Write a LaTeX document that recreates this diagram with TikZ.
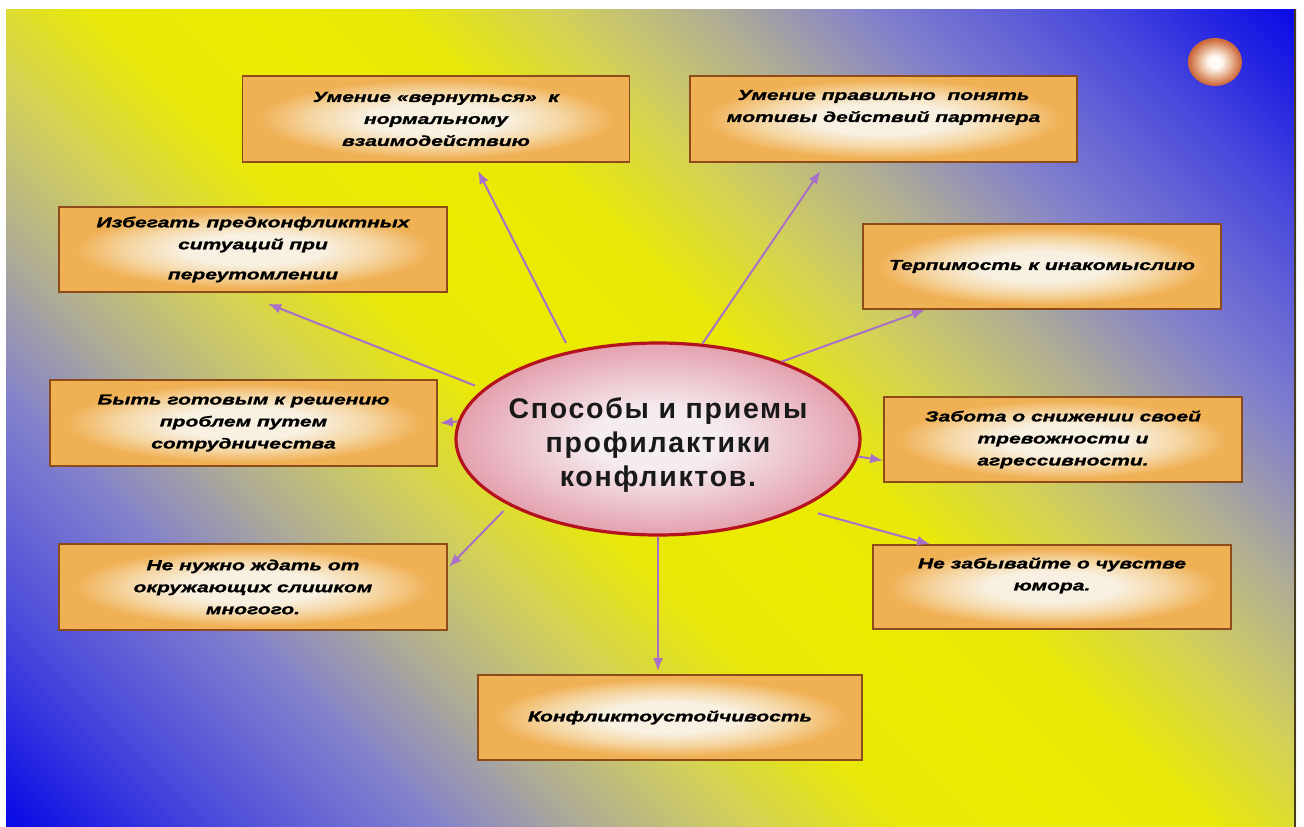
\documentclass[tikz,border=0pt]{standalone}
\usepackage{fontspec}
\setmainfont{Liberation Sans}
\newfontfamily\boxfont[FakeStretch=1.45, FakeBold=1.3]{Liberation Sans}
\newfontfamily\titlefont[LetterSpace=6]{Liberation Sans}
\usepackage{tikz}
\usetikzlibrary{arrows.meta,shapes.geometric,calc}
\tikzset{>={Latex[length=13pt,width=10pt]}}

\definecolor{bgblue}{RGB}{10,10,230}
\definecolor{bgbluetwo}{RGB}{75,75,220}
\definecolor{bgmauve}{RGB}{130,128,205}
\definecolor{bggray}{RGB}{175,172,150}
\definecolor{bgolive}{RGB}{210,208,90}
\definecolor{bgyellowtwo}{RGB}{232,232,10}
\definecolor{bgyellow}{RGB}{235,235,0}
\definecolor{edgedark}{RGB}{70,60,30}
\definecolor{boxlight}{RGB}{248,240,225}
\definecolor{boxmid}{RGB}{245,215,165}
\definecolor{boxorange}{RGB}{240,176,84}
\definecolor{boxedge}{RGB}{140,75,25}
\definecolor{pinklight}{RGB}{245,236,238}
\definecolor{pinkedge}{RGB}{228,160,175}
\definecolor{ellred}{RGB}{180,18,28}
\definecolor{orbwhite}{RGB}{255,250,245}
\definecolor{orbmid}{RGB}{235,190,160}
\definecolor{orbedge}{RGB}{205,105,60}
\definecolor{linkviolet}{RGB}{168,112,200}

\pgfdeclareverticalshading{bgband}{100bp}{color(0bp)=(bgblue); color(14.64bp)=(bgblue); color(21.72bp)=(bgbluetwo); color(28.79bp)=(bgmauve); color(34.09bp)=(bggray); color(39.39bp)=(bgolive); color(44.70bp)=(bgyellowtwo); color(50bp)=(bgyellow); color(55.30bp)=(bgyellowtwo); color(60.61bp)=(bgolive); color(65.91bp)=(bggray); color(71.21bp)=(bgmauve); color(78.28bp)=(bgbluetwo); color(85.36bp)=(bgblue); color(100bp)=(bgblue)}
\pgfdeclareradialshading{boxglow}{\pgfpointorigin}{color(0bp)=(boxlight); color(9bp)=(boxlight); color(16bp)=(boxmid); color(23bp)=(boxorange); color(50bp)=(boxorange)}
\pgfdeclareradialshading{pinkglow}{\pgfpointorigin}{color(0bp)=(pinklight); color(8bp)=(pinklight); color(25bp)=(pinkedge); color(50bp)=(pinkedge)}
\pgfdeclareradialshading{orbglow}{\pgfpointorigin}{color(0bp)=(orbwhite); color(6bp)=(orbwhite); color(14bp)=(orbmid); color(24bp)=(orbedge); color(50bp)=(orbedge)}

\begin{document}
\begin{tikzpicture}[x=1pt, y=-1pt,
	idea/.style={rectangle, draw=boxedge, line width=1.6pt, shade, shading=boxglow, minimum width=387pt, minimum height=86pt, inner sep=0pt, align=center, font=\boxfont\bfseries\itshape\fontsize{14.5}{22}\selectfont},
	topic/.style={ellipse, draw=ellred, line width=3.2pt, shade, shading=pinkglow, minimum width=404pt, minimum height=192pt, inner xsep=-12pt, inner ysep=0pt, text height=101pt, align=center, text=black!90, font=\titlefont\bfseries\fontsize{28.5}{34}\selectfont},
	orb/.style={ellipse, shade, shading=orbglow, minimum width=54pt, minimum height=48pt, inner sep=0pt},
	link/.style={color=linkviolet, line width=2pt}]
		\useasboundingbox (0,0) rectangle (1304,827);
		\shade[shading=bgband, shading angle=-45] (6,9) rectangle (1296,827);
		\draw[edgedark, line width=2pt] (1295,9) -- (1295,827);

		\node[orb] (sun) at (1215,62) {};
		\node[topic] (ell) at (658,439) {Способы и приемы\\профилактики\\конфликтов.};
		\node[idea] (b1) at (436,119) {Умение «вернуться»\ \ к\\нормальному\\взаимодействию};
		\node[idea, text depth=26pt] (b2) at (883.5,119) {Умение правильно\ \ понять\\мотивы действий партнера};
		\node[idea, minimum width=358pt, minimum height=85pt] (b3) at (1042,266.5) {Терпимость к инакомыслию};
		\node[idea, minimum width=358pt, minimum height=85pt] (b4) at (1063,439.5) {Забота о снижении своей\\тревожности и\\агрессивности.};
		\node[idea, minimum width=358pt, minimum height=84pt, text depth=26pt] (b5) at (1052,587) {Не забывайте о чувстве\\юмора.};
		\node[idea, minimum width=384pt, minimum height=85pt] (b6) at (670,717.5) {Конфликтоустойчивость};
		\node[idea, minimum width=388pt] (b7) at (253,587) {Не нужно ждать от\\окружающих слишком\\многого.};
		\node[idea] (b8) at (243.5,423) {Быть готовым к решению\\проблем путем\\сотрудничества};
		\node[idea, minimum width=388pt, minimum height=85pt] (b9) at (253,249.5) {Избегать предконфликтных\\ситуаций при\\[8pt]переутомлении};

		\path[->, link]
			(ell.135) edge[shorten <=9pt] ($(b1.south)+(42,8)$)
			(ell.65) edge ($(b2.south)+(-63,8)$)
			(ell.32) edge ($(b3.south)+(-117,0)$)
			(ell.-5) edge ($(b4.west)+(0,21)$)
			(ell.-26) edge[shorten <=18pt] ($(b5.north)+(-122,0)$)
			(ell.south) edge ($(b6.north)+(-12,-3)$)
			(ell.204) edge[shorten <=8pt] ($(b7.east)+(1,-20)$)
			(ell.175) edge ($(b8.east)+(2,0)$)
			(ell.164) edge[shorten <=9pt] ($(b9.south)+(15,11)$)
			;
	\end{tikzpicture}
\end{document}
